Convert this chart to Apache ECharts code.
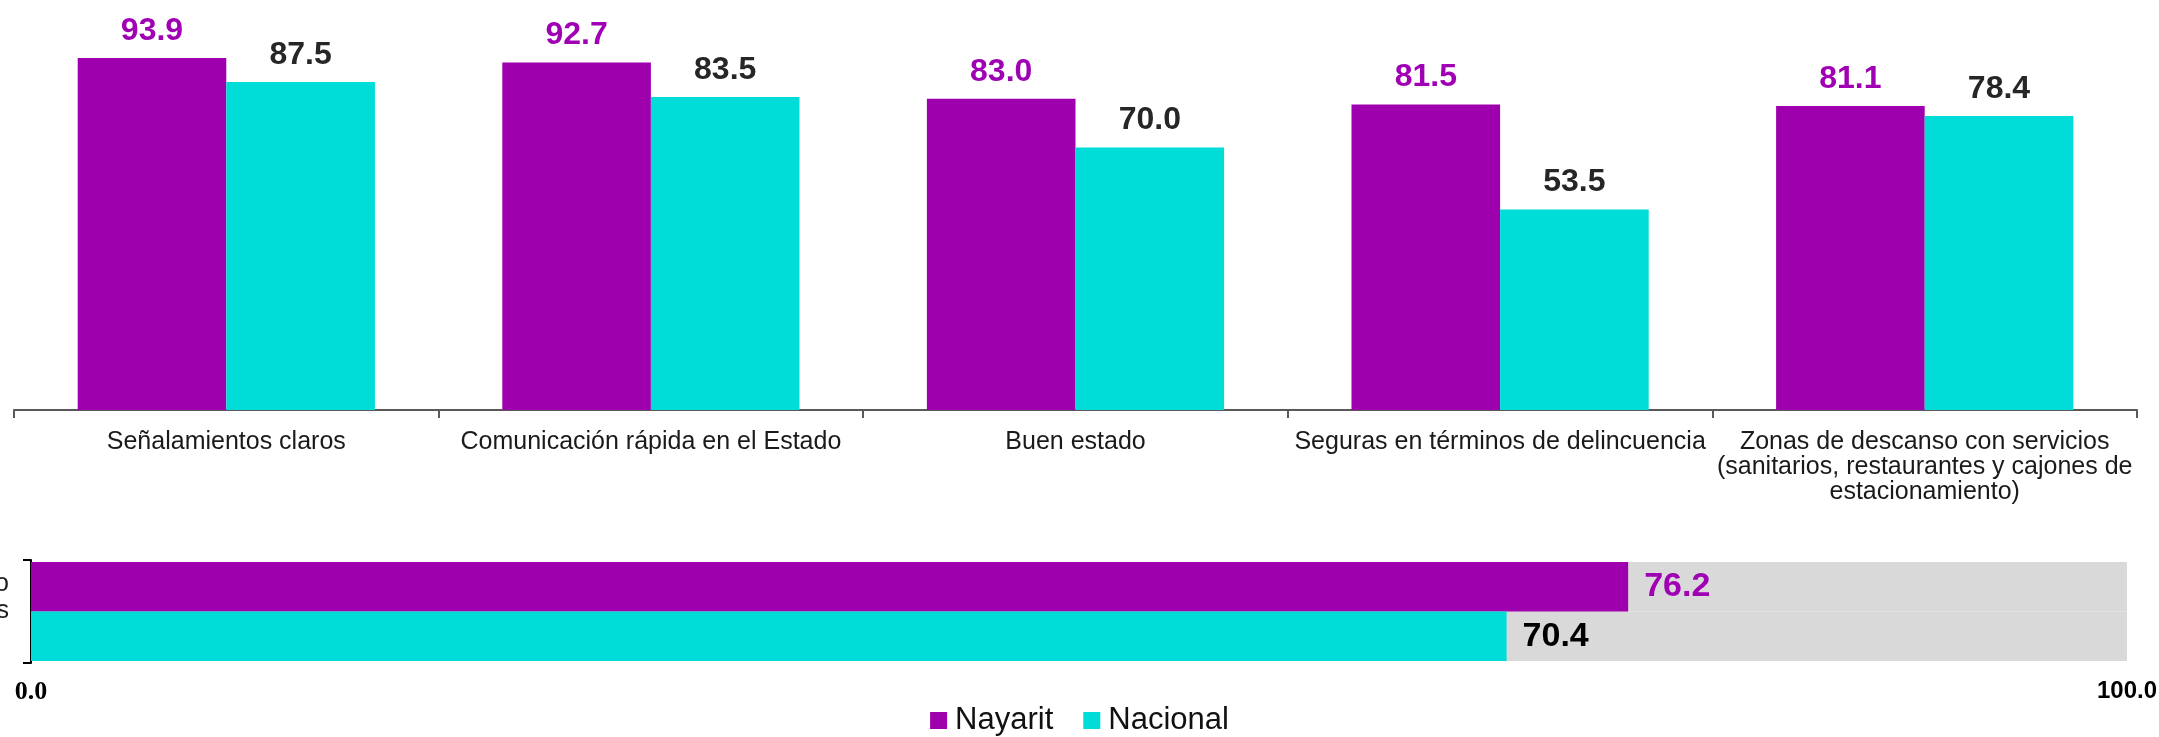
<!DOCTYPE html>
<html lang="es">
<head>
    <meta charset="UTF-8">
    <title>Nayarit vs Nacional</title>
    <script src="https://cdn.jsdelivr.net/npm/echarts@6/dist/echarts.min.js"></script>
</head>
<style>
    *{
        margin: 0;
        padding: 0;
    }
    html , body{
        width: 100%;
        height: 100%;
        overflow: hidden;
        background: #fff;
    }
    .container{
        width: 2159px;
        height: 737px;
    }
</style>
<body>
<div class="container"></div>
<script>
    // datos
    let categories = [
        'Señalamientos claros',
        'Comunicación rápida en el Estado',
        'Buen estado',
        'Seguras en términos de delincuencia',
        'Zonas de descanso con servicios\n(sanitarios, restaurantes y cajones de\nestacionamiento)'
    ];
    let nayarit = [93.9, 92.7, 83.0, 81.5, 81.1];
    let nacional = [87.5, 83.5, 70.0, 53.5, 78.4];

    let resumenCategoria = ['Promedio\nde atributos\n'];
    let resumenNayarit = [76.2];
    let resumenNacional = [70.4];
    let resumenTicks = ['0.0', '100.0'];

    let morado = '#9f00ad';
    let cian = '#00dcd8';
    let font = 'Liberation Sans, Arial, sans-serif';

    let container = document.querySelector('.container');
    let mycharts = echarts.init(container);

    let fmt = p => p.value.toFixed(1);

    let option = {
        animation: false,
        textStyle: {fontFamily: font},
        legend: {
            data: ['Nayarit', 'Nacional'],
            top: 700,
            left: 'center',
            icon: 'rect',
            itemWidth: 17,
            itemHeight: 17,
            itemGap: 30,
            textStyle: {fontSize: 31, color: '#111', fontFamily: font, padding: [0, 0, 0, 3]}
        },
        grid: [
            {left: 14, right: 22, top: 35, height: 375, outerBoundsMode: 'none', containLabel: false},
            {left: 31, right: 32, top: 560, height: 103, outerBoundsMode: 'none', containLabel: false}
        ],
        xAxis: [
            {
                gridIndex: 0,
                type: 'category',
                data: categories,
                axisLine: {lineStyle: {color: '#595959', width: 2}},
                axisTick: {show: true, length: 8, lineStyle: {color: '#595959', width: 2}},
                axisLabel: {
                    fontSize: 25,
                    lineHeight: 25,
                    color: '#1a1a1a',
                    margin: 20,
                    interval: 0
                }
            },
            {
                gridIndex: 1,
                type: 'value',
                min: 0,
                max: 100,
                interval: 100,
                axisLine: {show: false},
                axisTick: {show: false},
                splitLine: {show: false},
                axisLabel: {
                    margin: 16,
                    formatter: v => v === 0 ? '{a|' + resumenTicks[0] + '}' : '{b|' + resumenTicks[1] + '}',
                    rich: {
                        a: {fontFamily: 'Liberation Serif, Times New Roman, serif', fontWeight: 'bold', fontSize: 26, color: '#000'},
                        b: {fontFamily: font, fontWeight: 'bold', fontSize: 24, color: '#000'}
                    }
                }
            }
        ],
        yAxis: [
            {
                gridIndex: 0,
                type: 'value',
                min: 0,
                max: 100,
                show: false
            },
            {
                gridIndex: 1,
                type: 'category',
                data: resumenCategoria,
                axisLine: {lineStyle: {color: '#000', width: 2}},
                axisTick: {show: true, length: 8, lineStyle: {color: '#000', width: 2}},
                axisLabel: {
                    fontSize: 25,
                    lineHeight: 27,
                    color: '#1a1a1a',
                    margin: 22,
                    align: 'right'
                }
            }
        ],
        series: [
            {
                name: 'Nayarit',
                type: 'bar',
                xAxisIndex: 0,
                yAxisIndex: 0,
                data: nayarit,
                barGap: 0,
                barCategoryGap: '30%',
                itemStyle: {color: morado},
                label: {
                    show: true,
                    position: 'top',
                    distance: 11,
                    formatter: fmt,
                    fontSize: 32,
                    fontWeight: 'bold',
                    color: '#a000b4'
                }
            },
            {
                name: 'Nacional',
                type: 'bar',
                xAxisIndex: 0,
                yAxisIndex: 0,
                data: nacional,
                barGap: 0,
                barCategoryGap: '30%',
                itemStyle: {color: cian},
                label: {
                    show: true,
                    position: 'top',
                    distance: 11,
                    formatter: fmt,
                    fontSize: 32,
                    fontWeight: 'bold',
                    color: '#262626'
                }
            },
            {
                name: 'Nayarit',
                type: 'bar',
                xAxisIndex: 1,
                yAxisIndex: 1,
                data: resumenNayarit,
                barGap: 0,
                barCategoryGap: '4%',
                showBackground: true,
                backgroundStyle: {color: '#d9d9d9'},
                itemStyle: {color: morado},
                label: {
                    show: true,
                    position: 'right',
                    distance: 16,
                    formatter: fmt,
                    fontSize: 34,
                    fontWeight: 'bold',
                    color: '#a000b4'
                }
            },
            {
                name: 'Nacional',
                type: 'bar',
                xAxisIndex: 1,
                yAxisIndex: 1,
                data: resumenNacional,
                barGap: 0,
                barCategoryGap: '4%',
                showBackground: true,
                backgroundStyle: {color: '#d9d9d9'},
                itemStyle: {color: cian},
                label: {
                    show: true,
                    position: 'right',
                    distance: 16,
                    formatter: fmt,
                    fontSize: 34,
                    fontWeight: 'bold',
                    color: '#000'
                }
            }
        ]
    };
    mycharts.setOption(option);
</script>
</body>
</html>
